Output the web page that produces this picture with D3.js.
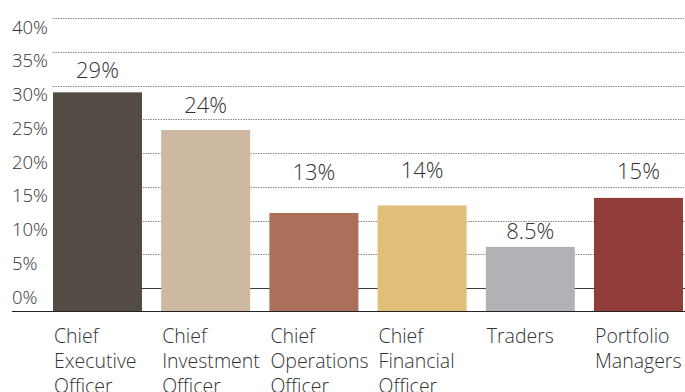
<!DOCTYPE html>
<html>
<head>
<meta charset="utf-8">
<script src="https://cdn.jsdelivr.net/npm/d3@7/dist/d3.min.js"></script>
<style>
  html, body { margin: 0; padding: 0; background: #fff; }
  svg { display: block; font-family: "Open Sans", "Noto Sans", sans-serif; font-weight: 300; }
</style>
</head>
<body>
<svg id="chart" width="685" height="392"></svg>
<script>
// Share of respondents by role
const categories = [
  ["Chief", "Executive", "Officer"],
  ["Chief", "Investment", "Officer"],
  ["Chief", "Operations", "Officer"],
  ["Chief", "Financial", "Officer"],
  ["Traders"],
  ["Portfolio", "Managers"]
];
const values = [29, 24, 13, 14, 8.5, 15];
const valueLabels = ["29%", "24%", "13%", "14%", "8.5%", "15%"];
const tickValues = [0, 5, 10, 15, 20, 25, 30, 35, 40];
const tickLabels = ["0%", "5%", "10%", "15%", "20%", "25%", "30%", "35%", "40%"];

// Layout / style
const colors = ["#524c45", "#cdb9a1", "#ab705a", "#e1bf79", "#b1b2b6", "#913d3a"];
const labelLift = [14, 17, 33, 27, 8, 19]; // gap from bar top to value label baseline

const W = 685, H = 392;
const svg = d3.select("#chart");

const keys = categories.map((c, i) => "c" + i);

const x = d3.scaleBand()
  .domain(keys)
  .range([53, 683])
  .paddingInner(0.1775)
  .paddingOuter(0);

// Scale used for the bars
const yBar = d3.scaleLinear().domain([0, 40]).range([311, 9.4]);
// Scale used for the gridlines and tick labels
const yGrid = d3.scaleLinear().domain([0, 40]).range([288, 18]);

// Gridlines
const grid = svg.append("g").attr("class", "grid");
grid.selectAll("line")
  .data(tickValues)
  .join("line")
  .attr("x1", 53)
  .attr("x2", W)
  .attr("y1", d => Math.round(yGrid(d)) + 0.5)
  .attr("y2", d => Math.round(yGrid(d)) + 0.5)
  .attr("stroke", d => d === 0 ? "#3a3a3a" : "#8a8a8a")
  .attr("stroke-width", 1)
  .attr("stroke-dasharray", d => d === 0 ? null : "1.5,1");

// Tick labels, left aligned, sitting below each gridline
svg.append("g").attr("class", "ticks")
  .selectAll("text")
  .data(tickValues)
  .join("text")
  .attr("x", 12)
  .attr("y", d => yGrid(d) + 15.5)
  .attr("font-size", 18.5)
  .attr("fill", "#333")
  .text((d, i) => tickLabels[i]);

// Bars
svg.append("g").attr("class", "bars")
  .selectAll("rect")
  .data(values)
  .join("rect")
  .attr("x", (d, i) => x(keys[i]))
  .attr("width", x.bandwidth())
  .attr("y", d => yBar(d))
  .attr("height", d => yBar(0) - yBar(d))
  .attr("fill", (d, i) => colors[i]);

// Baseline
svg.append("line")
  .attr("x1", 12).attr("x2", W)
  .attr("y1", yBar(0) + 0.5).attr("y2", yBar(0) + 0.5)
  .attr("stroke", "#222")
  .attr("stroke-width", 1.2);

// Value labels
svg.append("g").attr("class", "values")
  .selectAll("text")
  .data(values)
  .join("text")
  .attr("x", (d, i) => x(keys[i]) + x.bandwidth() / 2)
  .attr("y", (d, i) => yBar(d) - labelLift[i])
  .attr("text-anchor", "middle")
  .attr("font-size", 22)
  .attr("fill", "#333")
  .text((d, i) => valueLabels[i]);

// Category labels
const cat = svg.append("g").attr("class", "categories")
  .selectAll("text")
  .data(categories)
  .join("text")
  .attr("x", (d, i) => x(keys[i]) + 1)
  .attr("y", 342.5)
  .attr("font-size", 19.5)
  .attr("fill", "#333");
cat.selectAll("tspan")
  .data(d => d)
  .join("tspan")
  .attr("x", function () { return d3.select(this.parentNode).attr("x"); })
  .attr("dy", (d, j) => j === 0 ? 0 : 25)
  .text(d => d);
</script>
</body>
</html>
